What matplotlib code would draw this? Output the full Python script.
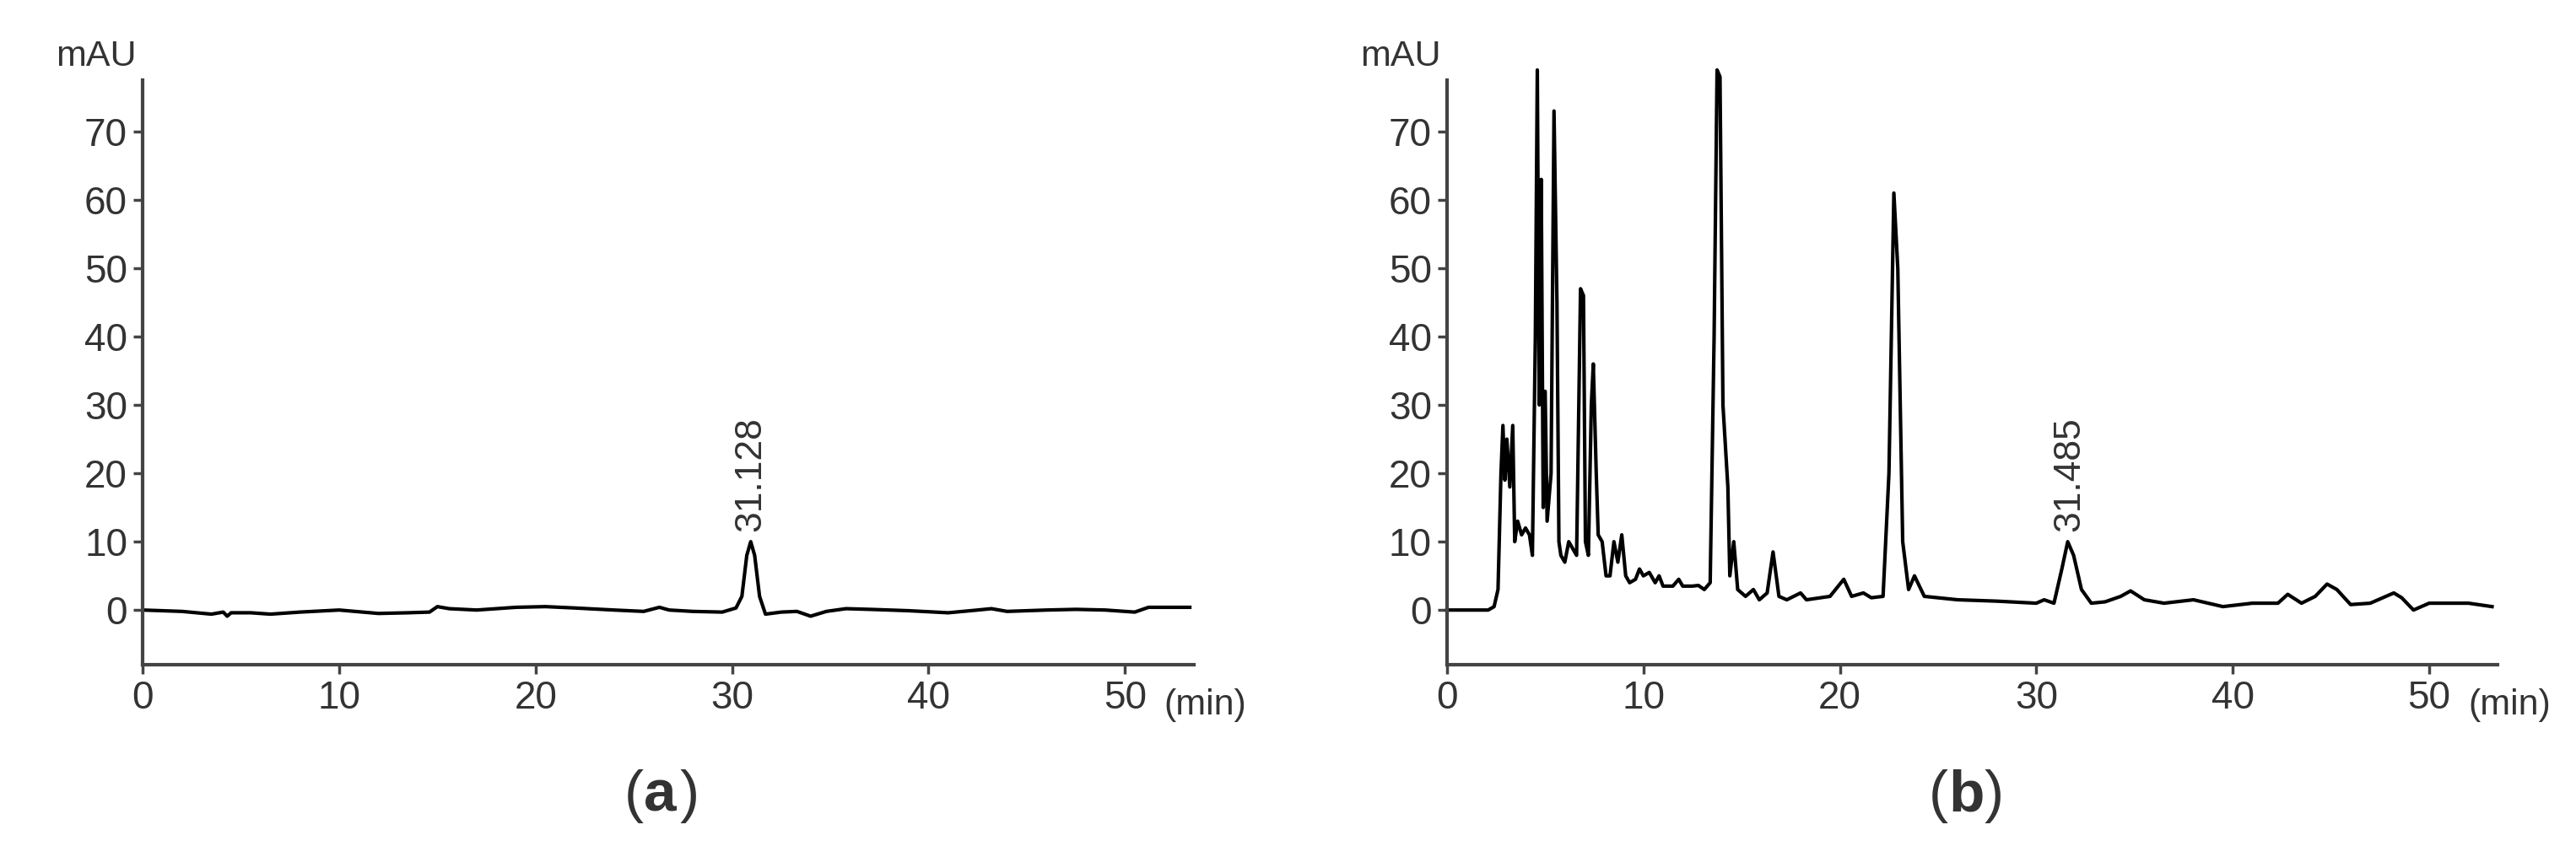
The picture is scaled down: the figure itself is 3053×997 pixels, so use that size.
import matplotlib
matplotlib.use("Agg")
from matplotlib import pyplot as plt

plt.rcParams["font.family"] = ["Liberation Sans", "DejaVu Sans"]

# chromatogram (a): time (min), absorbance (mAU)
time_a = [0, 2, 3.5, 4.1, 4.3, 4.5, 5.5, 6.5, 8, 10, 12, 13.5, 14.6, 15.0, 15.6, 17,
          19, 20.5, 22, 24, 25.5, 26.3, 26.8, 28, 29.5, 30.2, 30.5, 30.75, 30.95,
          31.15, 31.4, 31.7, 32.5, 33.3, 34.0, 34.8, 35.8, 37, 39, 41, 42.5, 43.2, 44,
          46, 47.5, 49, 50.5, 51.2, 52, 53.3]
mau_a = [0, -0.2, -0.6, -0.3, -0.9, -0.4, -0.4, -0.6, -0.3, 0, -0.5, -0.4, -0.3, 0.5,
         0.2, 0, 0.4, 0.5, 0.3, 0, -0.2, 0.4, 0, -0.2, -0.3, 0.3, 2, 8, 10, 8, 2, -0.6,
         -0.3, -0.2, -0.9, -0.2, 0.2, 0.1, -0.1, -0.4, 0, 0.2, -0.2, 0, 0.1, 0, -0.3,
         0.4, 0.4, 0.4]

# chromatogram (b)
time_b = [0, 2.1, 2.4, 2.6, 2.75, 2.85, 2.95, 3.05, 3.2, 3.35, 3.45, 3.6, 3.8, 4.0,
          4.2, 4.35, 4.5, 4.6, 4.7, 4.8, 4.9, 5.0, 5.1, 5.3, 5.45, 5.6, 5.7, 5.8, 6.0,
          6.2, 6.4, 6.6, 6.8, 6.95, 7.05, 7.2, 7.35, 7.45, 7.6, 7.7, 7.9, 8.1, 8.3,
          8.5, 8.7, 8.9, 9.1, 9.3, 9.6, 9.8, 10.0, 10.3, 10.6, 10.8, 11.0, 11.5, 11.8,
          12.0, 12.5, 12.8, 13.1, 13.4, 13.6, 13.75, 13.9, 14.05, 14.3, 14.4, 14.6,
          14.8, 15.2, 15.6, 15.9, 16.3, 16.6, 16.9, 17.3, 18.0, 18.3, 19.5, 20.2, 20.6,
          21.2, 21.6, 22.2, 22.5, 22.75, 22.95, 23.2, 23.5, 23.8, 24.3, 26, 28, 30,
          30.4, 30.9, 31.3, 31.6, 31.9, 32.3, 32.8, 33.5, 34.3, 34.8, 35.5, 36.5, 38,
          39.5, 41, 42.3, 42.8, 43.5, 44.2, 44.8, 45.3, 46, 47, 48.2, 48.6, 49.2, 50,
          52, 53.2]
mau_b = [0, 0, 0.5, 3, 20, 27, 19, 25, 18, 27, 10, 13, 11, 12, 11, 8, 40, 79, 30, 63,
         15, 32, 13, 20, 73, 45, 10, 8, 7, 10, 9, 8, 47, 46, 10, 8, 30, 36, 20, 11, 10,
         5, 5, 10, 7, 11, 5, 4, 4.5, 6, 5, 5.5, 4, 5, 3.5, 3.5, 4.5, 3.5, 3.5, 3.6, 3,
         4, 40, 79, 78, 30, 18, 5, 10, 3, 2, 3, 1.5, 2.5, 8.5, 2, 1.5, 2.5, 1.5, 2, 4.5,
         2, 2.5, 1.8, 2, 20, 61, 50, 10, 3, 5, 2, 1.5, 1.3, 1, 1.5, 1, 6, 10, 8, 3, 1,
         1.2, 2, 2.8, 1.5, 1, 1.5, 0.5, 1, 1, 2.3, 1, 2, 3.8, 3, 0.8, 1, 2.5, 1.8, 0, 1,
         1, 0.5]

panels = [
    (time_a, mau_a, "31.128", 30.95, 11.5, "a", 0.0554),
    (time_b, mau_b, "31.485", 31.7, 11.5, "b", 0.5617),
]

text_col = "#333333"
fig = plt.figure(figsize=(30.53, 9.97), dpi=100)

for t, y, lab, lx, ly, letter, left in panels:
    ax = fig.add_axes([left, 0.2096, 0.408, 0.695])
    ax.plot(t, y, color="black", lw=3, clip_on=False, solid_joinstyle="round")
    ax.set_xlim(0, 53.5)
    ax.set_ylim(-8, 77.5)
    ax.set_xticks([0, 10, 20, 30, 40, 50])
    ax.set_yticks([0, 10, 20, 30, 40, 50, 60, 70])
    for s in ["top", "right"]:
        ax.spines[s].set_visible(False)
    for s in ["left", "bottom"]:
        ax.spines[s].set_linewidth(3)
        ax.spines[s].set_color("#444444")
    ax.tick_params(length=8, width=2.5, color="#444444", labelsize=33,
                   labelcolor=text_col, pad=5)
    ax.text(-0.3, 78.5, "mAU", fontsize=31, color=text_col, ha="right", va="bottom")
    ax.text(52.0, -11.5, "(min)", fontsize=31, color=text_col, ha="left", va="top")
    ax.text(lx, ly, lab, fontsize=32, color=text_col, rotation=90,
            ha="center", va="bottom")
    cy = -0.225
    ax.text(0.477, cy, "(", transform=ax.transAxes, fontsize=50, ha="right",
            va="center", color=text_col)
    ax.text(0.477, cy, letter, transform=ax.transAxes, fontsize=50, ha="left",
            va="center", fontweight="bold", color=text_col)
    ax.text(0.477 + 0.034, cy, ")", transform=ax.transAxes, fontsize=50,
            ha="left", va="center", color=text_col)

fig.savefig("out.png", dpi=100)
